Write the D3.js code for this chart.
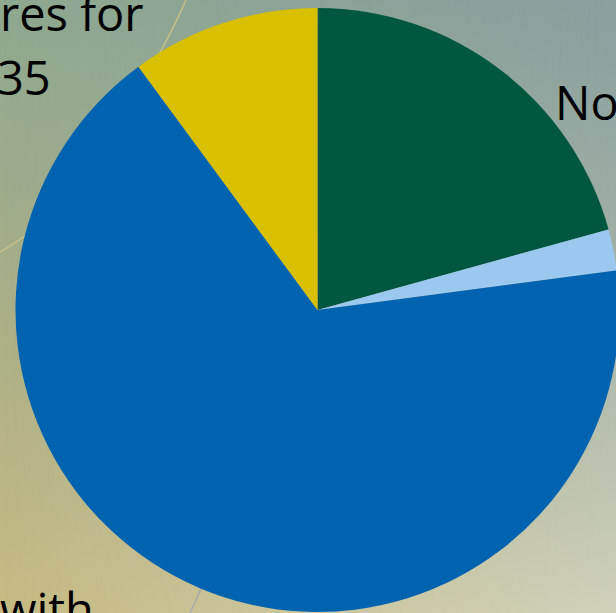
<!DOCTYPE html>
<html>
<head>
<meta charset="utf-8">
<script src="https://cdn.jsdelivr.net/npm/d3@7"></script>
<style>
  html, body { margin: 0; padding: 0; overflow: hidden; }
  svg { display: block; }
  .lbl { font-family: "Open Sans", sans-serif; font-size: 47px; fill: #000; }
</style>
</head>
<body>
<svg id="chart"></svg>
<script>
// slice data, clockwise from 12 o'clock
let categories = ["Green", "Light blue", "Blue", "Yellow"];
let values = [20.7, 2.2, 67.0, 10.1];
let colors = ["#005740", "#9ac8ee", "#0063af", "#d8bf00"];

// clipped labels that show at the edges of the picture
let labels = [
    { text: "res for", x: 0, y: 31 },
    { text: "35", x: -3, y: 95 },
    { text: "No", x: 555, y: 120 },
    { text: "with", x: 0, y: 627 }
];

let svgWidth = 616, svgHeight = 613;
let svg = d3.select("#chart")
    .attr("width", svgWidth)
    .attr("height", svgHeight);

// background: left column and right column gradients, blended left to right
let defs = svg.append("defs");
let leftGrad = defs.append("linearGradient").attr("id", "leftGrad")
    .attr("x1", 0).attr("y1", 0).attr("x2", 0).attr("y2", 1);
leftGrad.append("stop").attr("offset", "0%").attr("stop-color", "#8ea890");
leftGrad.append("stop").attr("offset", "45%").attr("stop-color", "#a6ae88");
leftGrad.append("stop").attr("offset", "100%").attr("stop-color", "#c7bb82");

let rightGrad = defs.append("linearGradient").attr("id", "rightGrad")
    .attr("x1", 0).attr("y1", 0).attr("x2", 0).attr("y2", 1);
rightGrad.append("stop").attr("offset", "0%").attr("stop-color", "#889f9e");
rightGrad.append("stop").attr("offset", "45%").attr("stop-color", "#a3b1a6");
rightGrad.append("stop").attr("offset", "100%").attr("stop-color", "#cfd1b9");

let fade = defs.append("linearGradient").attr("id", "fade")
    .attr("x1", 0).attr("y1", 0).attr("x2", 1).attr("y2", 0);
fade.append("stop").attr("offset", "0%").attr("stop-color", "#fff").attr("stop-opacity", 0);
fade.append("stop").attr("offset", "100%").attr("stop-color", "#fff").attr("stop-opacity", 1);
defs.append("mask").attr("id", "fadeMask")
    .append("rect").attr("width", svgWidth).attr("height", svgHeight).attr("fill", "url(#fade)");

svg.append("rect").attr("width", svgWidth).attr("height", svgHeight).attr("fill", "url(#leftGrad)");
svg.append("rect").attr("width", svgWidth).attr("height", svgHeight)
    .attr("fill", "url(#rightGrad)").attr("mask", "url(#fadeMask)");

// faint decorative strokes of the slide background
svg.append("path")
    .attr("d", "M186,0 C175,25 165,45 150,70")
    .attr("fill", "none").attr("stroke", "#c9c089").attr("stroke-width", 1.5);
svg.append("path")
    .attr("d", "M0,252 C12,245 22,238 34,230")
    .attr("fill", "none").attr("stroke", "#c9c089").attr("stroke-width", 1.5);
svg.append("path")
    .attr("d", "M202,586 C198,596 194,604 190,613")
    .attr("fill", "none").attr("stroke", "#a9abb0").attr("stroke-width", 1.5);

// pie
let cx = 317.5, cy = 310, radius = 302;
let pie = d3.pie().sort(null).value(function(d) { return d; });
let arc = d3.arc().innerRadius(0).outerRadius(radius);

let g = svg.append("g")
    .attr("transform", "translate(" + cx + "," + cy + ")");

g.selectAll("path.slice")
    .data(pie(values))
    .enter()
    .append("path")
    .attr("class", "slice")
    .attr("fill", function(d, i) { return colors[i]; })
    .attr("d", arc);

// labels
svg.selectAll("text.lbl")
    .data(labels)
    .enter()
    .append("text")
    .attr("class", "lbl")
    .attr("x", function(d) { return d.x; })
    .attr("y", function(d) { return d.y; })
    .text(function(d) { return d.text; });
</script>
</body>
</html>
